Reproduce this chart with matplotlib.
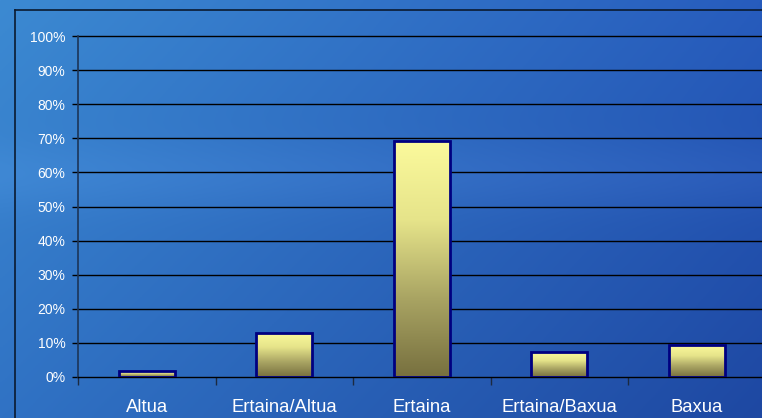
import numpy as np
import matplotlib
matplotlib.use("Agg")
import matplotlib.pyplot as plt
from matplotlib.colors import LinearSegmentedColormap
from matplotlib.lines import Line2D

categories = ["Altua", "Ertaina/Altua", "Ertaina", "Ertaina/Baxua", "Baxua"]
values = [1.7, 13.0, 69.2, 7.3, 9.3]
yticks = [0, 10, 20, 30, 40, 50, 60, 70, 80, 90, 100]
ytick_labels = [f"{v}%" for v in yticks]

W, H = 762, 418
fig = plt.figure(figsize=(W / 100, H / 100), dpi=100)

# background gradient
bg = fig.add_axes([0, 0, 1, 1])
bg.set_axis_off()
yy, xx = np.mgrid[0:1:200j, 0:1:300j]
tl = np.array([0x3c, 0x8a, 0xd2]) / 255
tr = np.array([0x27, 0x5c, 0xbd]) / 255
bl = np.array([0x30, 0x72, 0xc4]) / 255
br = np.array([0x1e, 0x48, 0xa2]) / 255
img = (tl[None, None] * ((1 - xx) * (1 - yy))[..., None]
       + tr[None, None] * (xx * (1 - yy))[..., None]
       + bl[None, None] * ((1 - xx) * yy)[..., None]
       + br[None, None] * (xx * yy)[..., None])
band = np.exp(-((yy - 0.42) / 0.08) ** 2) * 0.03
img = np.clip(img + band[..., None], 0, 1)
bg.imshow(img, extent=[0, 1, 0, 1], aspect="auto", origin="upper")
bg.set_xlim(0, 1)
bg.set_ylim(0, 1)

# outer frame
fig.add_artist(Line2D([15 / W, 15 / W], [0, 1 - 10 / H], transform=fig.transFigure,
                      color="#0a1a30", lw=1.2))
fig.add_artist(Line2D([15 / W, 1], [1 - 10 / H, 1 - 10 / H], transform=fig.transFigure,
                      color="#0a1a30", lw=1.2))

left = 78 / W
bottom = 1 - 377 / H
top = 1 - 36 / H
right = 765.5 / W
ax = fig.add_axes([left, bottom, right - left, top - bottom])
ax.patch.set_alpha(0)
ax.set_xlim(-0.5, len(categories) - 0.5)
ax.set_ylim(0, 100)

for v in yticks[1:]:
    ax.axhline(v, color="black", lw=1.0, zorder=1, clip_on=False)

x = np.arange(len(categories))
bars = ax.bar(x, values, width=0.41, facecolor="none", edgecolor="#000080",
              linewidth=2.0, zorder=3)
cmap = LinearSegmentedColormap.from_list("barfill", ["#77703f", "#a9a463", "#e6e48a", "#fbfa9c"])
grad = np.linspace(0, 1, 256).reshape(-1, 1)
for b in bars:
    x0, w, h = b.get_x(), b.get_width(), b.get_height()
    im = ax.imshow(grad, cmap=cmap, origin="lower", aspect="auto",
                   extent=[x0, x0 + w, 0, h], zorder=2)
    im.set_clip_path(b)
ax.set_xlim(-0.5, len(categories) - 0.5)
ax.set_ylim(0, 100)

for s in ["top", "right"]:
    ax.spines[s].set_visible(False)
ax.spines["left"].set_color("#1c3558")
ax.spines["left"].set_linewidth(1.2)
ax.spines["bottom"].set_color("black")
ax.spines["bottom"].set_linewidth(1.0)

ax.set_yticks(yticks)
ax.set_yticklabels(ytick_labels)
ax.tick_params(axis="y", length=4, width=1, color="black", pad=5,
               labelcolor="white", labelsize=10)
for t in ax.get_yticklabels():
    t.set_fontfamily(["Liberation Sans", "DejaVu Sans"])

ax.set_xticks(x)
ax.set_xticklabels(categories)
ax.set_xticks(np.arange(len(categories) + 1) - 0.5, minor=True)
ax.tick_params(axis="x", which="major", length=0, pad=16, labelcolor="white",
               labelsize=13.3)
ax.tick_params(axis="x", which="minor", length=6, width=1, color="#1c2a40")
for t in ax.get_xticklabels():
    t.set_fontfamily(["Liberation Sans", "DejaVu Sans"])

fig.savefig("out.png", dpi=100)
